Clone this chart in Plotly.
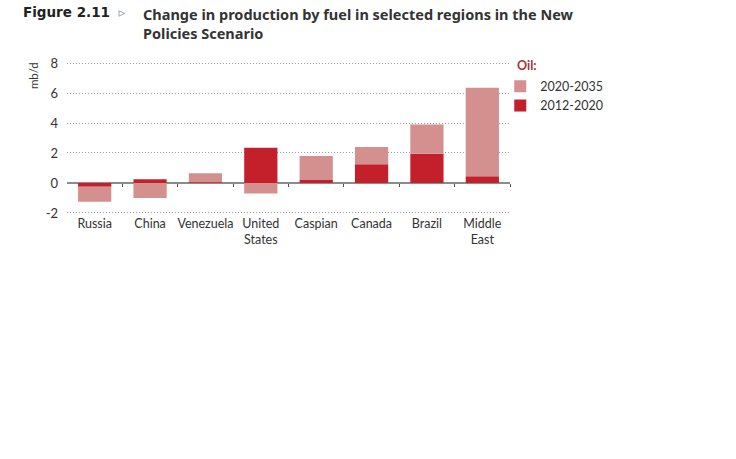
import plotly.graph_objects as go

regions = ["Russia", "China", "Venezuela", "United<br>States", "Caspian", "Canada", "Brazil", "Middle<br>East"]
oil_2012_2020 = [-0.25, 0.25, 0.05, 2.35, 0.2, 1.25, 1.95, 0.45]
oil_2020_2035 = [-1.0, -1.0, 0.6, -0.7, 1.6, 1.15, 1.95, 5.9]
y_ticks = [-2, 0, 2, 4, 6, 8]
y_tick_text = ["-2", "0", "2", "4", "6", "8"]

dark = "#c4202b"
light = "#d48f8f"
font_family = "Lato, Carlito, 'Open Sans', sans-serif"

idx = list(range(len(regions)))
boundaries = [i + 0.5 for i in idx]

fig = go.Figure()
fig.add_trace(go.Bar(x=idx, y=oil_2012_2020, name="2012-2020", marker_color=dark,
                     marker_line_width=0, width=0.6))
fig.add_trace(go.Bar(x=idx, y=oil_2020_2035, name="2020-2035", marker_color=light,
                     marker_line_width=0, width=0.6))
# invisible trace to drive the secondary axis with boundary ticks
fig.add_trace(go.Scatter(x=boundaries, y=[0] * len(boundaries), xaxis="x2", mode="markers",
                         marker=dict(size=1, opacity=0), showlegend=False, hoverinfo="skip"))

pad = 0.07
ymin, ymax = y_ticks[0] - pad, y_ticks[-1] + pad
fig.update_layout(
    width=736, height=459,
    margin=dict(l=67, r=226, t=62, b=245, autoexpand=False),
    paper_bgcolor="white", plot_bgcolor="white",
    barmode="relative",
    font=dict(family=font_family, size=12, color="#333333"),
    showlegend=True,
    legend=dict(x=0.978, y=0.937, xanchor="left", yanchor="top", traceorder="reversed",
                font=dict(size=12.5, color="#333333"), itemwidth=30, tracegroupgap=0,
                bgcolor="rgba(0,0,0,0)"),
    xaxis=dict(range=[-0.5, len(regions) - 0.5], tickmode="array", tickvals=idx,
               ticktext=regions, showgrid=False, zeroline=False, showline=False,
               ticks="", automargin=False, tickfont=dict(size=12.5, color="#333333")),
    xaxis2=dict(overlaying="x", range=[-0.5, len(regions) - 0.5], anchor="free",
                position=(0 - ymin) / (ymax - ymin), side="bottom", tickmode="array",
                tickvals=boundaries, ticks="outside", ticklen=3, tickcolor="#555555",
                showticklabels=False, showgrid=False, zeroline=False, showline=False,
                automargin=False),
    yaxis=dict(range=[ymin, ymax], tickmode="array", tickvals=y_ticks, ticktext=y_tick_text,
               showgrid=True, gridcolor="#9a9a9a", griddash="1px,2px", gridwidth=1,
               zeroline=True, zerolinecolor="#8c8c8c", zerolinewidth=1.5,
               showline=False, ticks="", ticklabelstandoff=8, automargin=False,
               tickfont=dict(size=13, color="#333333")),
    bargap=0.4,
)

fig.add_annotation(xref="paper", yref="paper", x=1.011, y=0.975, xanchor="left", yanchor="middle",
                   text="<b>Oil:</b>", showarrow=False,
                   font=dict(size=12.5, color="#a3333a"))
fig.add_annotation(xref="paper", yref="paper", x=-0.077, y=0.913, xanchor="center", yanchor="middle",
                   text="mb/d", textangle=-90, showarrow=False,
                   font=dict(size=11.5, color="#333333"))
fig.add_annotation(xref="paper", yref="paper", x=-0.103, y=1.395, xanchor="left", yanchor="top",
                   text="<b>Figure 2.11</b>  <span style='color:#7f97b0'>▹</span>", showarrow=False,
                   font=dict(family="'DejaVu Sans', sans-serif", size=13.5, color="#222222"))
fig.add_annotation(xref="paper", yref="paper", x=0.167, y=1.395, xanchor="left", yanchor="top",
                   align="left",
                   text="<b>Change in production by fuel in selected regions in the New<br>Policies Scenario</b>",
                   showarrow=False,
                   font=dict(family="'Noto Sans', sans-serif", size=14.5, color="#333333"))

fig.write_html("out.html", config={"displayModeBar": False},
               post_script="document.body.style.margin='0';")
